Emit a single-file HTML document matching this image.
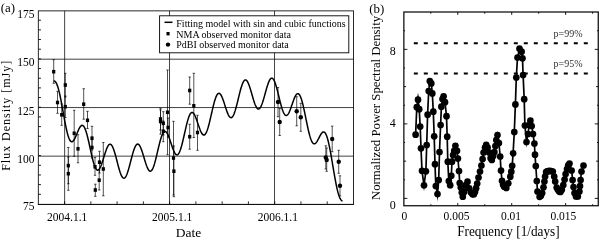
<!DOCTYPE html>
<html><head><meta charset="utf-8"><title>fig</title>
<style>
html,body{margin:0;padding:0;background:#fff;}
body{width:600px;height:240px;position:relative;overflow:hidden;font-family:"Liberation Serif",serif;}
svg{display:block;will-change:transform}
</style></head><body>
<svg width="600" height="240" viewBox="0 0 600 240" style="position:absolute;left:0;top:0">
<rect x="0" y="0" width="600" height="240" fill="#fff"/>
<line x1="64.65" y1="10.87" x2="64.65" y2="204.33" stroke="#111" stroke-width="0.8"/>
<line x1="169.53" y1="10.87" x2="169.53" y2="204.33" stroke="#111" stroke-width="0.8"/>
<line x1="274.53" y1="10.87" x2="274.53" y2="204.33" stroke="#111" stroke-width="0.8"/>
<line x1="38.33" y1="59.20" x2="353.47" y2="59.20" stroke="#111" stroke-width="0.8"/>
<line x1="38.33" y1="107.55" x2="353.47" y2="107.55" stroke="#111" stroke-width="0.8"/>
<line x1="38.33" y1="156.15" x2="353.47" y2="156.15" stroke="#111" stroke-width="0.8"/>
<line x1="64.59" y1="204.33" x2="64.59" y2="201.33" stroke="#000" stroke-width="0.8"/>
<line x1="90.85" y1="204.33" x2="90.85" y2="201.33" stroke="#000" stroke-width="0.8"/>
<line x1="117.12" y1="204.33" x2="117.12" y2="201.33" stroke="#000" stroke-width="0.8"/>
<line x1="143.38" y1="204.33" x2="143.38" y2="201.33" stroke="#000" stroke-width="0.8"/>
<line x1="169.64" y1="204.33" x2="169.64" y2="201.33" stroke="#000" stroke-width="0.8"/>
<line x1="195.90" y1="204.33" x2="195.90" y2="201.33" stroke="#000" stroke-width="0.8"/>
<line x1="222.16" y1="204.33" x2="222.16" y2="201.33" stroke="#000" stroke-width="0.8"/>
<line x1="248.42" y1="204.33" x2="248.42" y2="201.33" stroke="#000" stroke-width="0.8"/>
<line x1="274.69" y1="204.33" x2="274.69" y2="201.33" stroke="#000" stroke-width="0.8"/>
<line x1="300.95" y1="204.33" x2="300.95" y2="201.33" stroke="#000" stroke-width="0.8"/>
<line x1="327.21" y1="204.33" x2="327.21" y2="201.33" stroke="#000" stroke-width="0.8"/>
<line x1="38.33" y1="20.19" x2="40.93" y2="20.19" stroke="#000" stroke-width="0.9"/>
<line x1="38.33" y1="29.87" x2="40.93" y2="29.87" stroke="#000" stroke-width="0.9"/>
<line x1="38.33" y1="39.54" x2="40.93" y2="39.54" stroke="#000" stroke-width="0.9"/>
<line x1="38.33" y1="49.21" x2="40.93" y2="49.21" stroke="#000" stroke-width="0.9"/>
<line x1="38.33" y1="58.88" x2="40.93" y2="58.88" stroke="#000" stroke-width="0.9"/>
<line x1="38.33" y1="68.56" x2="40.93" y2="68.56" stroke="#000" stroke-width="0.9"/>
<line x1="38.33" y1="78.23" x2="40.93" y2="78.23" stroke="#000" stroke-width="0.9"/>
<line x1="38.33" y1="87.90" x2="40.93" y2="87.90" stroke="#000" stroke-width="0.9"/>
<line x1="38.33" y1="97.58" x2="40.93" y2="97.58" stroke="#000" stroke-width="0.9"/>
<line x1="38.33" y1="107.25" x2="40.93" y2="107.25" stroke="#000" stroke-width="0.9"/>
<line x1="38.33" y1="116.92" x2="40.93" y2="116.92" stroke="#000" stroke-width="0.9"/>
<line x1="38.33" y1="126.60" x2="40.93" y2="126.60" stroke="#000" stroke-width="0.9"/>
<line x1="38.33" y1="136.27" x2="40.93" y2="136.27" stroke="#000" stroke-width="0.9"/>
<line x1="38.33" y1="145.94" x2="40.93" y2="145.94" stroke="#000" stroke-width="0.9"/>
<line x1="38.33" y1="155.62" x2="40.93" y2="155.62" stroke="#000" stroke-width="0.9"/>
<line x1="38.33" y1="165.29" x2="40.93" y2="165.29" stroke="#000" stroke-width="0.9"/>
<line x1="38.33" y1="174.96" x2="40.93" y2="174.96" stroke="#000" stroke-width="0.9"/>
<line x1="38.33" y1="184.63" x2="40.93" y2="184.63" stroke="#000" stroke-width="0.9"/>
<line x1="38.33" y1="194.31" x2="40.93" y2="194.31" stroke="#000" stroke-width="0.9"/>
<path d="M53.7 59.7V83.3M52.5 59.7h2.4M52.5 83.3h2.4" stroke="#000" stroke-width="0.68" fill="none"/>
<path d="M65.3 73.3V97.0M64.1 73.3h2.4M64.1 97.0h2.4" stroke="#000" stroke-width="0.68" fill="none"/>
<path d="M57.5 91.3V113.3M56.3 91.3h2.4M56.3 113.3h2.4" stroke="#000" stroke-width="0.68" fill="none"/>
<path d="M65.3 96.0V117.5M64.1 96.0h2.4M64.1 117.5h2.4" stroke="#000" stroke-width="0.68" fill="none"/>
<path d="M61.7 104.0V125.3M60.5 104.0h2.4M60.5 125.3h2.4" stroke="#000" stroke-width="0.68" fill="none"/>
<path d="M83.7 88.7V119.2M82.5 88.7h2.4M82.5 119.2h2.4" stroke="#000" stroke-width="0.68" fill="none"/>
<path d="M74.2 110.3V156.3M73.0 110.3h2.4M73.0 156.3h2.4" stroke="#000" stroke-width="0.68" fill="none"/>
<path d="M87.5 111.3V128.5M86.3 111.3h2.4M86.3 128.5h2.4" stroke="#000" stroke-width="0.68" fill="none"/>
<path d="M92.0 126.3V150.0M90.8 126.3h2.4M90.8 150.0h2.4" stroke="#000" stroke-width="0.68" fill="none"/>
<path d="M92.0 137.0V158.0M90.8 137.0h2.4M90.8 158.0h2.4" stroke="#000" stroke-width="0.68" fill="none"/>
<path d="M78.0 134.7V162.8M76.8 134.7h2.4M76.8 162.8h2.4" stroke="#000" stroke-width="0.68" fill="none"/>
<path d="M68.3 147.5V183.7M67.1 147.5h2.4M67.1 183.7h2.4" stroke="#000" stroke-width="0.68" fill="none"/>
<path d="M68.3 157.0V190.3M67.1 157.0h2.4M67.1 190.3h2.4" stroke="#000" stroke-width="0.68" fill="none"/>
<path d="M95.0 157.5V175.3M93.8 157.5h2.4M93.8 175.3h2.4" stroke="#000" stroke-width="0.68" fill="none"/>
<path d="M99.5 151.3V173.0M98.3 151.3h2.4M98.3 173.0h2.4" stroke="#000" stroke-width="0.68" fill="none"/>
<path d="M103.3 142.5V195.8M102.1 142.5h2.4M102.1 195.8h2.4" stroke="#000" stroke-width="0.68" fill="none"/>
<path d="M99.2 170.0V190.0M98.0 170.0h2.4M98.0 190.0h2.4" stroke="#000" stroke-width="0.68" fill="none"/>
<path d="M95.3 184.2V196.3M94.1 184.2h2.4M94.1 196.3h2.4" stroke="#000" stroke-width="0.68" fill="none"/>
<path d="M167.5 70.0V154.7M166.3 70.0h2.4M166.3 154.7h2.4" stroke="#000" stroke-width="0.68" fill="none"/>
<path d="M160.5 108.3V130.0M159.3 108.3h2.4M159.3 130.0h2.4" stroke="#000" stroke-width="0.68" fill="none"/>
<path d="M160.5 110.0V134.2M159.3 110.0h2.4M159.3 134.2h2.4" stroke="#000" stroke-width="0.68" fill="none"/>
<path d="M163.3 111.7V135.0M162.10000000000002 111.7h2.4M162.10000000000002 135.0h2.4" stroke="#000" stroke-width="0.68" fill="none"/>
<path d="M168.0 118.0V137.0M166.8 118.0h2.4M166.8 137.0h2.4" stroke="#000" stroke-width="0.68" fill="none"/>
<path d="M163.3 121.0V141.7M162.10000000000002 121.0h2.4M162.10000000000002 141.7h2.4" stroke="#000" stroke-width="0.68" fill="none"/>
<path d="M189.7 77.0V104.2M188.5 77.0h2.4M188.5 104.2h2.4" stroke="#000" stroke-width="0.68" fill="none"/>
<path d="M193.8 73.3V137.5M192.60000000000002 73.3h2.4M192.60000000000002 137.5h2.4" stroke="#000" stroke-width="0.68" fill="none"/>
<path d="M189.7 124.2V149.2M188.5 124.2h2.4M188.5 149.2h2.4" stroke="#000" stroke-width="0.68" fill="none"/>
<path d="M197.5 115.3V150.3M196.3 115.3h2.4M196.3 150.3h2.4" stroke="#000" stroke-width="0.68" fill="none"/>
<path d="M173.5 121.3V195.0M172.3 121.3h2.4M172.3 195.0h2.4" stroke="#000" stroke-width="0.68" fill="none"/>
<path d="M173.9 146.0V196.7M172.70000000000002 146.0h2.4M172.70000000000002 196.7h2.4" stroke="#000" stroke-width="0.68" fill="none"/>
<path d="M278.0 87.5V116.7M276.8 87.5h2.4M276.8 116.7h2.4" stroke="#000" stroke-width="0.68" fill="none"/>
<path d="M279.7 108.5V135.5M278.5 108.5h2.4M278.5 135.5h2.4" stroke="#000" stroke-width="0.68" fill="none"/>
<path d="M296.7 96.7V125.8M295.5 96.7h2.4M295.5 125.8h2.4" stroke="#000" stroke-width="0.68" fill="none"/>
<path d="M300.8 103.3V131.3M299.6 103.3h2.4M299.6 131.3h2.4" stroke="#000" stroke-width="0.68" fill="none"/>
<path d="M332.2 126.2V151.7M331.0 126.2h2.4M331.0 151.7h2.4" stroke="#000" stroke-width="0.68" fill="none"/>
<path d="M325.8 145.8V169.0M324.6 145.8h2.4M324.6 169.0h2.4" stroke="#000" stroke-width="0.68" fill="none"/>
<path d="M326.7 148.0V171.3M325.5 148.0h2.4M325.5 171.3h2.4" stroke="#000" stroke-width="0.68" fill="none"/>
<path d="M338.7 150.3V173.3M337.5 150.3h2.4M337.5 173.3h2.4" stroke="#000" stroke-width="0.68" fill="none"/>
<path d="M340.0 175.8V195.8M338.8 175.8h2.4M338.8 195.8h2.4" stroke="#000" stroke-width="0.68" fill="none"/>
<path d="M53.6 80.95 L54.1 80.94 L54.6 81.11 L55.1 81.46 L55.6 82.01 L56.1 82.76 L56.6 83.72 L57.1 84.89 L57.6 86.27 L58.1 87.84 L58.6 89.62 L59.1 91.57 L59.6 93.70 L60.1 95.99 L60.6 98.41 L61.1 100.95 L61.6 103.59 L62.1 106.30 L62.6 109.07 L63.1 111.86 L63.6 114.65 L64.1 117.41 L64.6 120.12 L65.1 122.76 L65.6 125.30 L66.1 127.71 L66.6 129.99 L67.1 132.10 L67.6 134.03 L68.1 135.77 L68.6 137.30 L69.1 138.61 L69.6 139.70 L70.1 140.57 L70.6 141.20 L71.1 141.61 L71.6 141.80 L72.1 141.77 L72.6 141.54 L73.1 141.12 L73.6 140.53 L74.1 139.78 L74.6 138.90 L75.1 137.90 L75.6 136.80 L76.1 135.64 L76.6 134.44 L77.1 133.22 L77.6 132.01 L78.1 130.84 L78.6 129.72 L79.1 128.68 L79.6 127.75 L80.1 126.95 L80.6 126.29 L81.1 125.79 L81.6 125.47 L82.1 125.34 L82.6 125.41 L83.1 125.68 L83.6 126.16 L84.1 126.85 L84.6 127.76 L85.1 128.86 L85.6 130.16 L86.1 131.64 L86.6 133.30 L87.1 135.11 L87.6 137.06 L88.1 139.13 L88.6 141.29 L89.1 143.52 L89.6 145.81 L90.1 148.12 L90.6 150.43 L91.1 152.71 L91.6 154.93 L92.1 157.09 L92.6 159.14 L93.1 161.07 L93.6 162.85 L94.1 164.48 L94.6 165.92 L95.1 167.17 L95.6 168.22 L96.1 169.05 L96.6 169.65 L97.1 170.04 L97.6 170.19 L98.1 170.13 L98.6 169.84 L99.1 169.35 L99.6 168.65 L100.1 167.78 L100.6 166.73 L101.1 165.53 L101.6 164.20 L102.1 162.76 L102.6 161.23 L103.1 159.64 L103.6 158.01 L104.1 156.38 L104.6 154.75 L105.1 153.17 L105.6 151.65 L106.1 150.21 L106.6 148.89 L107.1 147.70 L107.6 146.65 L108.1 145.77 L108.6 145.08 L109.1 144.57 L109.6 144.27 L110.1 144.17 L110.6 144.29 L111.1 144.61 L111.6 145.15 L112.1 145.89 L112.6 146.83 L113.1 147.95 L113.6 149.24 L114.1 150.69 L114.6 152.27 L115.1 153.98 L115.6 155.77 L116.1 157.64 L116.6 159.55 L117.1 161.49 L117.6 163.43 L118.1 165.34 L118.6 167.19 L119.1 168.97 L119.6 170.64 L120.1 172.19 L120.6 173.60 L121.1 174.85 L121.6 175.91 L122.1 176.79 L122.6 177.46 L123.1 177.91 L123.6 178.15 L124.1 178.16 L124.6 177.95 L125.1 177.52 L125.6 176.87 L126.1 176.02 L126.6 174.97 L127.1 173.75 L127.6 172.35 L128.1 170.81 L128.6 169.15 L129.1 167.38 L129.6 165.53 L130.1 163.62 L130.6 161.68 L131.1 159.73 L131.6 157.81 L132.1 155.93 L132.6 154.11 L133.1 152.39 L133.6 150.79 L134.1 149.32 L134.6 148.00 L135.1 146.85 L135.6 145.89 L136.1 145.12 L136.6 144.55 L137.1 144.20 L137.6 144.06 L138.1 144.13 L138.6 144.41 L139.1 144.90 L139.6 145.59 L140.1 146.45 L140.6 147.49 L141.1 148.69 L141.6 150.02 L142.1 151.46 L142.6 153.00 L143.1 154.61 L143.6 156.27 L144.1 157.95 L144.6 159.62 L145.1 161.27 L145.6 162.86 L146.1 164.37 L146.6 165.78 L147.1 167.06 L147.6 168.21 L148.1 169.18 L148.6 169.99 L149.1 170.59 L149.6 171.00 L150.1 171.19 L150.6 171.16 L151.1 170.92 L151.6 170.45 L152.1 169.77 L152.6 168.87 L153.1 167.77 L153.6 166.48 L154.1 165.02 L154.6 163.39 L155.1 161.62 L155.6 159.73 L156.1 157.74 L156.6 155.68 L157.1 153.57 L157.6 151.43 L158.1 149.28 L158.6 147.17 L159.1 145.10 L159.6 143.11 L160.1 141.21 L160.6 139.43 L161.1 137.80 L161.6 136.32 L162.1 135.01 L162.6 133.89 L163.1 132.97 L163.6 132.26 L164.1 131.75 L164.6 131.47 L165.1 131.40 L165.6 131.54 L166.1 131.88 L166.6 132.43 L167.1 133.15 L167.6 134.05 L168.1 135.10 L168.6 136.29 L169.1 137.59 L169.6 138.98 L170.1 140.45 L170.6 141.96 L171.1 143.49 L171.6 145.01 L172.1 146.50 L172.6 147.94 L173.1 149.30 L173.6 150.55 L174.1 151.68 L174.6 152.67 L175.1 153.49 L175.6 154.14 L176.1 154.59 L176.6 154.84 L177.1 154.88 L177.6 154.70 L178.1 154.31 L178.6 153.70 L179.1 152.87 L179.6 151.84 L180.1 150.61 L180.6 149.19 L181.1 147.59 L181.6 145.85 L182.1 143.96 L182.6 141.96 L183.1 139.87 L183.6 137.70 L184.1 135.49 L184.6 133.26 L185.1 131.04 L185.6 128.84 L186.1 126.70 L186.6 124.64 L187.1 122.68 L187.6 120.85 L188.1 119.15 L188.6 117.62 L189.1 116.27 L189.6 115.11 L190.1 114.15 L190.6 113.40 L191.1 112.86 L191.6 112.54 L192.1 112.44 L192.6 112.54 L193.1 112.86 L193.6 113.37 L194.1 114.07 L194.6 114.94 L195.1 115.96 L195.6 117.11 L196.1 118.38 L196.6 119.74 L197.1 121.17 L197.6 122.64 L198.1 124.13 L198.6 125.62 L199.1 127.07 L199.6 128.46 L200.1 129.78 L200.6 130.99 L201.1 132.08 L201.6 133.02 L202.1 133.80 L202.6 134.40 L203.1 134.81 L203.6 135.02 L204.1 135.02 L204.6 134.81 L205.1 134.38 L205.6 133.74 L206.1 132.88 L206.6 131.82 L207.1 130.57 L207.6 129.13 L208.1 127.52 L208.6 125.77 L209.1 123.88 L209.6 121.88 L210.1 119.79 L210.6 117.64 L211.1 115.45 L211.6 113.24 L212.1 111.05 L212.6 108.88 L213.1 106.78 L213.6 104.77 L214.1 102.86 L214.6 101.07 L215.1 99.44 L215.6 97.97 L216.1 96.68 L216.6 95.59 L217.1 94.70 L217.6 94.03 L218.1 93.57 L218.6 93.33 L219.1 93.30 L219.6 93.49 L220.1 93.89 L220.6 94.48 L221.1 95.26 L221.6 96.21 L222.1 97.31 L222.6 98.55 L223.1 99.90 L223.6 101.34 L224.1 102.84 L224.6 104.39 L225.1 105.95 L225.6 107.51 L226.1 109.03 L226.6 110.50 L227.1 111.89 L227.6 113.17 L228.1 114.32 L228.6 115.33 L229.1 116.18 L229.6 116.85 L230.1 117.33 L230.6 117.62 L231.1 117.69 L231.6 117.55 L232.1 117.20 L232.6 116.64 L233.1 115.86 L233.6 114.89 L234.1 113.73 L234.6 112.38 L235.1 110.88 L235.6 109.23 L236.1 107.45 L236.6 105.56 L237.1 103.60 L237.6 101.57 L238.1 99.51 L238.6 97.44 L239.1 95.39 L239.6 93.37 L240.1 91.42 L240.6 89.56 L241.1 87.81 L241.6 86.20 L242.1 84.74 L242.6 83.44 L243.1 82.34 L243.6 81.43 L244.1 80.72 L244.6 80.23 L245.1 79.96 L245.6 79.91 L246.1 80.08 L246.6 80.47 L247.1 81.06 L247.6 81.85 L248.1 82.82 L248.6 83.96 L249.1 85.26 L249.6 86.69 L250.1 88.23 L250.6 89.86 L251.1 91.55 L251.6 93.29 L252.1 95.04 L252.6 96.78 L253.1 98.49 L253.6 100.14 L254.1 101.71 L254.6 103.17 L255.1 104.51 L255.6 105.70 L256.1 106.73 L256.6 107.59 L257.1 108.25 L257.6 108.72 L258.1 108.98 L258.6 109.03 L259.1 108.87 L259.6 108.50 L260.1 107.92 L260.6 107.15 L261.1 106.19 L261.6 105.06 L262.1 103.76 L262.6 102.33 L263.1 100.78 L263.6 99.12 L264.1 97.39 L264.6 95.60 L265.1 93.78 L265.6 91.96 L266.1 90.17 L266.6 88.41 L267.1 86.73 L267.6 85.14 L268.1 83.67 L268.6 82.34 L269.1 81.16 L269.6 80.15 L270.1 79.34 L270.6 78.72 L271.1 78.32 L271.6 78.13 L272.1 78.16 L272.6 78.42 L273.1 78.90 L273.6 79.59 L274.1 80.49 L274.6 81.58 L275.1 82.87 L275.6 84.32 L276.1 85.92 L276.6 87.65 L277.1 89.50 L277.6 91.43 L278.1 93.43 L278.6 95.47 L279.1 97.52 L279.6 99.56 L280.1 101.57 L280.6 103.51 L281.1 105.38 L281.6 107.14 L282.1 108.77 L282.6 110.26 L283.1 111.58 L283.6 112.73 L284.1 113.69 L284.6 114.46 L285.1 115.02 L285.6 115.37 L286.1 115.52 L286.6 115.45 L287.1 115.19 L287.6 114.73 L288.1 114.09 L288.6 113.28 L289.1 112.32 L289.6 111.22 L290.1 110.00 L290.6 108.69 L291.1 107.30 L291.6 105.87 L292.1 104.41 L292.6 102.96 L293.1 101.53 L293.6 100.15 L294.1 98.85 L294.6 97.65 L295.1 96.57 L295.6 95.63 L296.1 94.85 L296.6 94.25 L297.1 93.84 L297.6 93.63 L298.1 93.64 L298.6 93.87 L299.1 94.32 L299.6 95.00 L300.1 95.89 L300.6 97.00 L301.1 98.33 L301.6 99.84 L302.1 101.55 L302.6 103.42 L303.1 105.44 L303.6 107.60 L304.1 109.86 L304.6 112.21 L305.1 114.63 L305.6 117.08 L306.1 119.55 L306.6 122.00 L307.1 124.42 L307.6 126.78 L308.1 129.05 L308.6 131.22 L309.1 133.26 L309.6 135.16 L310.1 136.89 L310.6 138.45 L311.1 139.83 L311.6 141.00 L312.1 141.98 L312.6 142.75 L313.1 143.31 L313.6 143.67 L314.1 143.83 L314.6 143.80 L315.1 143.60 L315.6 143.23 L316.1 142.70 L316.6 142.05 L317.1 141.29 L317.6 140.43 L318.1 139.51 L318.6 138.55 L319.1 137.57 L319.6 136.59 L320.1 135.65 L320.6 134.76 L321.1 133.95 L321.6 133.25 L322.1 132.68 L322.6 132.25 L323.1 131.98 L323.6 131.90 L324.1 132.01 L324.6 132.33 L325.1 132.87 L325.6 133.63 L326.1 134.61 L326.6 135.82 L327.1 137.25 L327.6 138.90 L328.1 140.76 L328.6 142.81 L329.1 145.05 L329.6 147.46 L330.1 150.02 L330.6 152.71 L331.1 155.50 L331.6 158.39 L332.1 161.33 L332.6 164.31 L333.1 167.31 L333.6 170.29 L334.1 173.23 L334.6 176.12 L335.1 178.92 L335.6 181.61 L336.1 184.17 L336.6 186.59 L337.1 188.85 L337.6 190.94 L338.1 192.84 L338.6 194.54 L339.1 196.05 L339.6 197.35 L340.1 198.45 L340.6 199.35 L341.1 200.05 L341.6 200.57 L342.1 200.91 L342.6 201.09" stroke="#000" stroke-width="1.5" fill="none" stroke-linejoin="round"/>
<rect x="52.10" y="69.90" width="3.2" height="3.6" fill="#000"/>
<rect x="63.70" y="83.20" width="3.2" height="3.6" fill="#000"/>
<rect x="55.90" y="100.70" width="3.2" height="3.6" fill="#000"/>
<rect x="63.70" y="104.90" width="3.2" height="3.6" fill="#000"/>
<rect x="60.10" y="113.00" width="3.2" height="3.6" fill="#000"/>
<rect x="82.10" y="102.40" width="3.2" height="3.6" fill="#000"/>
<rect x="72.60" y="131.50" width="3.2" height="3.6" fill="#000"/>
<rect x="85.90" y="118.50" width="3.2" height="3.6" fill="#000"/>
<rect x="90.40" y="136.50" width="3.2" height="3.6" fill="#000"/>
<rect x="90.40" y="145.70" width="3.2" height="3.6" fill="#000"/>
<rect x="76.40" y="147.00" width="3.2" height="3.6" fill="#000"/>
<rect x="66.70" y="163.80" width="3.2" height="3.6" fill="#000"/>
<rect x="66.70" y="171.90" width="3.2" height="3.6" fill="#000"/>
<rect x="93.40" y="165.00" width="3.2" height="3.6" fill="#000"/>
<rect x="97.90" y="160.40" width="3.2" height="3.6" fill="#000"/>
<rect x="101.70" y="167.20" width="3.2" height="3.6" fill="#000"/>
<rect x="97.60" y="178.40" width="3.2" height="3.6" fill="#000"/>
<rect x="93.70" y="188.20" width="3.2" height="3.6" fill="#000"/>
<rect x="165.90" y="110.50" width="3.2" height="3.6" fill="#000"/>
<rect x="158.90" y="117.20" width="3.2" height="3.6" fill="#000"/>
<rect x="158.90" y="119.70" width="3.2" height="3.6" fill="#000"/>
<rect x="161.70" y="121.50" width="3.2" height="3.6" fill="#000"/>
<rect x="166.40" y="125.70" width="3.2" height="3.6" fill="#000"/>
<rect x="161.70" y="129.50" width="3.2" height="3.6" fill="#000"/>
<rect x="188.10" y="88.70" width="3.2" height="3.6" fill="#000"/>
<rect x="192.20" y="104.00" width="3.2" height="3.6" fill="#000"/>
<rect x="188.10" y="134.90" width="3.2" height="3.6" fill="#000"/>
<rect x="195.90" y="130.70" width="3.2" height="3.6" fill="#000"/>
<rect x="171.90" y="156.20" width="3.2" height="3.6" fill="#000"/>
<rect x="172.30" y="169.40" width="3.2" height="3.6" fill="#000"/>
<circle cx="278.0" cy="102.0" r="2.2" fill="#000"/>
<circle cx="279.7" cy="122.0" r="2.2" fill="#000"/>
<circle cx="296.7" cy="111.3" r="2.2" fill="#000"/>
<circle cx="300.8" cy="117.2" r="2.2" fill="#000"/>
<circle cx="332.2" cy="139.0" r="2.2" fill="#000"/>
<circle cx="325.8" cy="157.5" r="2.2" fill="#000"/>
<circle cx="326.7" cy="160.0" r="2.2" fill="#000"/>
<circle cx="338.7" cy="161.7" r="2.2" fill="#000"/>
<circle cx="340.0" cy="185.8" r="2.2" fill="#000"/>
<rect x="38.33" y="10.87" width="315.14" height="193.46" fill="none" stroke="#111" stroke-width="0.9"/>
<line x1="37.879999999999995" y1="204.43" x2="353.92" y2="204.43" stroke="#111" stroke-width="1.1"/>
<rect x="159.6" y="15.8" width="189.2" height="37" fill="#fff" stroke="#000" stroke-width="0.9"/>
<line x1="164.5" y1="22.3" x2="172.5" y2="22.3" stroke="#000" stroke-width="1.5"/>
<rect x="166.5" y="32" width="3.1" height="3.4" fill="#000"/>
<circle cx="168" cy="44.6" r="2.2" fill="#000"/>
<line x1="430.83" y1="205.75" x2="430.83" y2="204.25" stroke="#000" stroke-width="0.9"/>
<line x1="430.83" y1="12.0" x2="430.83" y2="13.7" stroke="#000" stroke-width="0.9"/>
<line x1="457.79" y1="205.75" x2="457.79" y2="203.05" stroke="#000" stroke-width="0.9"/>
<line x1="457.79" y1="12.0" x2="457.79" y2="14.899999999999999" stroke="#000" stroke-width="0.9"/>
<line x1="484.75" y1="205.75" x2="484.75" y2="204.25" stroke="#000" stroke-width="0.9"/>
<line x1="484.75" y1="12.0" x2="484.75" y2="13.7" stroke="#000" stroke-width="0.9"/>
<line x1="511.71" y1="205.75" x2="511.71" y2="203.05" stroke="#000" stroke-width="0.9"/>
<line x1="511.71" y1="12.0" x2="511.71" y2="14.899999999999999" stroke="#000" stroke-width="0.9"/>
<line x1="538.67" y1="205.75" x2="538.67" y2="204.25" stroke="#000" stroke-width="0.9"/>
<line x1="538.67" y1="12.0" x2="538.67" y2="13.7" stroke="#000" stroke-width="0.9"/>
<line x1="565.63" y1="205.75" x2="565.63" y2="203.05" stroke="#000" stroke-width="0.9"/>
<line x1="565.63" y1="12.0" x2="565.63" y2="14.899999999999999" stroke="#000" stroke-width="0.9"/>
<line x1="592.59" y1="205.75" x2="592.59" y2="204.25" stroke="#000" stroke-width="0.9"/>
<line x1="592.59" y1="12.0" x2="592.59" y2="13.7" stroke="#000" stroke-width="0.9"/>
<line x1="403.87" y1="198.40" x2="407.37" y2="198.40" stroke="#000" stroke-width="0.9"/>
<line x1="598.25" y1="198.40" x2="594.75" y2="198.40" stroke="#000" stroke-width="0.9"/>
<line x1="403.87" y1="179.77" x2="405.07" y2="179.77" stroke="#000" stroke-width="0.9"/>
<line x1="598.25" y1="179.77" x2="597.05" y2="179.77" stroke="#000" stroke-width="0.9"/>
<line x1="403.87" y1="161.14" x2="406.07" y2="161.14" stroke="#000" stroke-width="0.9"/>
<line x1="598.25" y1="161.14" x2="596.05" y2="161.14" stroke="#000" stroke-width="0.9"/>
<line x1="403.87" y1="142.51" x2="405.07" y2="142.51" stroke="#000" stroke-width="0.9"/>
<line x1="598.25" y1="142.51" x2="597.05" y2="142.51" stroke="#000" stroke-width="0.9"/>
<line x1="403.87" y1="123.88" x2="407.37" y2="123.88" stroke="#000" stroke-width="0.9"/>
<line x1="598.25" y1="123.88" x2="594.75" y2="123.88" stroke="#000" stroke-width="0.9"/>
<line x1="403.87" y1="105.25" x2="405.07" y2="105.25" stroke="#000" stroke-width="0.9"/>
<line x1="598.25" y1="105.25" x2="597.05" y2="105.25" stroke="#000" stroke-width="0.9"/>
<line x1="403.87" y1="86.62" x2="406.07" y2="86.62" stroke="#000" stroke-width="0.9"/>
<line x1="598.25" y1="86.62" x2="596.05" y2="86.62" stroke="#000" stroke-width="0.9"/>
<line x1="403.87" y1="67.99" x2="405.07" y2="67.99" stroke="#000" stroke-width="0.9"/>
<line x1="598.25" y1="67.99" x2="597.05" y2="67.99" stroke="#000" stroke-width="0.9"/>
<line x1="403.87" y1="49.36" x2="407.37" y2="49.36" stroke="#000" stroke-width="0.9"/>
<line x1="598.25" y1="49.36" x2="594.75" y2="49.36" stroke="#000" stroke-width="0.9"/>
<line x1="403.87" y1="30.73" x2="405.07" y2="30.73" stroke="#000" stroke-width="0.9"/>
<line x1="598.25" y1="30.73" x2="597.05" y2="30.73" stroke="#000" stroke-width="0.9"/>
<line x1="413.8" y1="43.2" x2="588" y2="43.2" stroke="#000" stroke-width="2" stroke-dasharray="4 6"/>
<line x1="413.8" y1="73.4" x2="588" y2="73.4" stroke="#000" stroke-width="2" stroke-dasharray="4 6"/>
<path d="M415.6 134.7 L416.8 107.2 L418.0 99.7 L419.2 109.2 L420.2 126.5 L421.0 148.3 L422.0 170.8 L424.0 185.3 L425.9 171.3 L426.7 145.0 L427.6 114.7 L428.7 91.0 L429.8 81.0 L431.3 83.4 L432.3 93.4 L433.3 111.7 L434.2 136.3 L435.0 164.2 L435.8 186.0 L437.5 194.0 L438.7 180.0 L439.5 152.0 L440.6 125.0 L441.4 106.7 L442.5 99.1 L443.6 96.3 L445.0 102.2 L446.5 116.2 L447.2 136.7 L447.8 161.7 L448.8 181.0 L450.2 185.2 L451.3 175.8 L452.0 161.7 L453.1 155.0 L454.2 150.8 L455.4 145.8 L457.0 150.8 L457.9 158.5 L459.0 171.0 L459.7 183.0 L460.8 187.5 L461.8 192.5 L462.8 196.7 L464.2 192.0 L465.8 185.0 L467.5 181.7 L469.2 188.3 L471.0 192.5 L472.6 194.3 L473.9 194.2 L475.0 191.8 L476.1 188.2 L477.2 183.5 L478.5 177.5 L480.0 171.5 L481.4 165.5 L482.6 159.0 L483.6 152.5 L485.0 147.5 L486.2 144.8 L487.6 147.5 L489.2 152.5 L490.6 158.0 L491.8 160.0 L493.2 156.0 L494.4 152.0 L495.4 146.0 L496.3 140.0 L497.5 135.0 L498.9 143.0 L500.2 156.5 L501.0 170.6 L502.0 180.8 L503.1 184.7 L504.2 186.7 L506.3 188.0 L508.3 183.3 L510.3 176.7 L511.3 171.7 L512.2 165.8 L513.1 153.3 L514.3 132.0 L515.4 104.4 L516.3 77.5 L517.5 57.5 L519.5 48.7 L521.6 51.7 L522.5 58.3 L523.1 75.0 L524.2 99.2 L524.9 125.5 L526.5 142.0 L528.0 134.0 L529.2 125.0 L530.4 120.7 L531.7 126.0 L533.0 134.0 L534.4 143.5 L535.0 154.7 L535.8 166.0 L536.8 181.0 L537.5 191.5 L539.6 196.8 L540.9 195.7 L542.2 193.0 L543.5 187.3 L544.4 181.5 L545.1 176.5 L546.1 172.0 L547.2 171.4 L548.4 171.0 L549.5 170.9 L551.1 171.0 L552.8 171.5 L554.2 176.5 L555.2 181.5 L556.7 187.5 L557.9 189.8 L559.2 191.4 L560.4 192.0 L561.8 189.7 L563.3 185.0 L564.6 179.5 L565.6 174.0 L567.0 169.0 L568.2 165.4 L569.5 163.5 L571.6 170.5 L572.6 180.0 L573.5 187.0 L574.5 193.0 L576.0 196.5 L577.8 196.5 L579.4 191.5 L580.0 186.0 L580.6 180.0 L581.5 171.5 L583.5 165.5" stroke="#000" stroke-width="1.7" fill="none" stroke-linejoin="miter" stroke-miterlimit="10"/>
<circle cx="415.6" cy="134.7" r="3.35" fill="#000"/>
<circle cx="416.8" cy="107.2" r="3.35" fill="#000"/>
<circle cx="418.0" cy="99.7" r="3.35" fill="#000"/>
<circle cx="419.2" cy="109.2" r="3.35" fill="#000"/>
<circle cx="420.2" cy="126.5" r="3.35" fill="#000"/>
<circle cx="421.0" cy="148.3" r="3.35" fill="#000"/>
<circle cx="422.0" cy="170.8" r="3.35" fill="#000"/>
<circle cx="424.0" cy="185.3" r="3.35" fill="#000"/>
<circle cx="425.9" cy="171.3" r="3.35" fill="#000"/>
<circle cx="426.7" cy="145.0" r="3.35" fill="#000"/>
<circle cx="427.6" cy="114.7" r="3.35" fill="#000"/>
<circle cx="428.7" cy="91.0" r="3.35" fill="#000"/>
<circle cx="429.8" cy="81.0" r="3.35" fill="#000"/>
<circle cx="431.3" cy="83.4" r="3.35" fill="#000"/>
<circle cx="432.3" cy="93.4" r="3.35" fill="#000"/>
<circle cx="433.3" cy="111.7" r="3.35" fill="#000"/>
<circle cx="434.2" cy="136.3" r="3.35" fill="#000"/>
<circle cx="435.0" cy="164.2" r="3.35" fill="#000"/>
<circle cx="435.8" cy="186.0" r="3.35" fill="#000"/>
<circle cx="437.5" cy="194.0" r="3.35" fill="#000"/>
<circle cx="438.7" cy="180.0" r="3.35" fill="#000"/>
<circle cx="439.5" cy="152.0" r="3.35" fill="#000"/>
<circle cx="440.6" cy="125.0" r="3.35" fill="#000"/>
<circle cx="441.4" cy="106.7" r="3.35" fill="#000"/>
<circle cx="442.5" cy="99.1" r="3.35" fill="#000"/>
<circle cx="443.6" cy="96.3" r="3.35" fill="#000"/>
<circle cx="445.0" cy="102.2" r="3.35" fill="#000"/>
<circle cx="446.5" cy="116.2" r="3.35" fill="#000"/>
<circle cx="447.2" cy="136.7" r="3.35" fill="#000"/>
<circle cx="447.8" cy="161.7" r="3.35" fill="#000"/>
<circle cx="448.8" cy="181.0" r="3.35" fill="#000"/>
<circle cx="450.2" cy="185.2" r="3.35" fill="#000"/>
<circle cx="451.3" cy="175.8" r="3.35" fill="#000"/>
<circle cx="452.0" cy="161.7" r="3.35" fill="#000"/>
<circle cx="453.1" cy="155.0" r="3.35" fill="#000"/>
<circle cx="454.2" cy="150.8" r="3.35" fill="#000"/>
<circle cx="455.4" cy="145.8" r="3.35" fill="#000"/>
<circle cx="457.0" cy="150.8" r="3.35" fill="#000"/>
<circle cx="457.9" cy="158.5" r="3.35" fill="#000"/>
<circle cx="459.0" cy="171.0" r="3.35" fill="#000"/>
<circle cx="459.7" cy="183.0" r="3.35" fill="#000"/>
<circle cx="460.8" cy="187.5" r="3.35" fill="#000"/>
<circle cx="461.8" cy="192.5" r="3.35" fill="#000"/>
<circle cx="462.8" cy="196.7" r="3.35" fill="#000"/>
<circle cx="464.2" cy="192.0" r="3.35" fill="#000"/>
<circle cx="465.8" cy="185.0" r="3.35" fill="#000"/>
<circle cx="467.5" cy="181.7" r="3.35" fill="#000"/>
<circle cx="469.2" cy="188.3" r="3.35" fill="#000"/>
<circle cx="471.0" cy="192.5" r="3.35" fill="#000"/>
<circle cx="472.6" cy="194.3" r="3.35" fill="#000"/>
<circle cx="473.9" cy="194.2" r="3.35" fill="#000"/>
<circle cx="475.0" cy="191.8" r="3.35" fill="#000"/>
<circle cx="476.1" cy="188.2" r="3.35" fill="#000"/>
<circle cx="477.2" cy="183.5" r="3.35" fill="#000"/>
<circle cx="478.5" cy="177.5" r="3.35" fill="#000"/>
<circle cx="480.0" cy="171.5" r="3.35" fill="#000"/>
<circle cx="481.4" cy="165.5" r="3.35" fill="#000"/>
<circle cx="482.6" cy="159.0" r="3.35" fill="#000"/>
<circle cx="483.6" cy="152.5" r="3.35" fill="#000"/>
<circle cx="485.0" cy="147.5" r="3.35" fill="#000"/>
<circle cx="486.2" cy="144.8" r="3.35" fill="#000"/>
<circle cx="487.6" cy="147.5" r="3.35" fill="#000"/>
<circle cx="489.2" cy="152.5" r="3.35" fill="#000"/>
<circle cx="490.6" cy="158.0" r="3.35" fill="#000"/>
<circle cx="491.8" cy="160.0" r="3.35" fill="#000"/>
<circle cx="493.2" cy="156.0" r="3.35" fill="#000"/>
<circle cx="494.4" cy="152.0" r="3.35" fill="#000"/>
<circle cx="495.4" cy="146.0" r="3.35" fill="#000"/>
<circle cx="496.3" cy="140.0" r="3.35" fill="#000"/>
<circle cx="497.5" cy="135.0" r="3.35" fill="#000"/>
<circle cx="498.9" cy="143.0" r="3.35" fill="#000"/>
<circle cx="500.2" cy="156.5" r="3.35" fill="#000"/>
<circle cx="501.0" cy="170.6" r="3.35" fill="#000"/>
<circle cx="502.0" cy="180.8" r="3.35" fill="#000"/>
<circle cx="503.1" cy="184.7" r="3.35" fill="#000"/>
<circle cx="504.2" cy="186.7" r="3.35" fill="#000"/>
<circle cx="506.3" cy="188.0" r="3.35" fill="#000"/>
<circle cx="508.3" cy="183.3" r="3.35" fill="#000"/>
<circle cx="510.3" cy="176.7" r="3.35" fill="#000"/>
<circle cx="511.3" cy="171.7" r="3.35" fill="#000"/>
<circle cx="512.2" cy="165.8" r="3.35" fill="#000"/>
<circle cx="513.1" cy="153.3" r="3.35" fill="#000"/>
<circle cx="514.3" cy="132.0" r="3.35" fill="#000"/>
<circle cx="515.4" cy="104.4" r="3.35" fill="#000"/>
<circle cx="516.3" cy="77.5" r="3.35" fill="#000"/>
<circle cx="517.5" cy="57.5" r="3.35" fill="#000"/>
<circle cx="519.5" cy="48.7" r="3.35" fill="#000"/>
<circle cx="521.6" cy="51.7" r="3.35" fill="#000"/>
<circle cx="522.5" cy="58.3" r="3.35" fill="#000"/>
<circle cx="523.1" cy="75.0" r="3.35" fill="#000"/>
<circle cx="524.2" cy="99.2" r="3.35" fill="#000"/>
<circle cx="524.9" cy="125.5" r="3.35" fill="#000"/>
<circle cx="526.5" cy="142.0" r="3.35" fill="#000"/>
<circle cx="528.0" cy="134.0" r="3.35" fill="#000"/>
<circle cx="529.2" cy="125.0" r="3.35" fill="#000"/>
<circle cx="530.4" cy="120.7" r="3.35" fill="#000"/>
<circle cx="531.7" cy="126.0" r="3.35" fill="#000"/>
<circle cx="533.0" cy="134.0" r="3.35" fill="#000"/>
<circle cx="534.4" cy="143.5" r="3.35" fill="#000"/>
<circle cx="535.0" cy="154.7" r="3.35" fill="#000"/>
<circle cx="535.8" cy="166.0" r="3.35" fill="#000"/>
<circle cx="536.8" cy="181.0" r="3.35" fill="#000"/>
<circle cx="537.5" cy="191.5" r="3.35" fill="#000"/>
<circle cx="539.6" cy="196.8" r="3.35" fill="#000"/>
<circle cx="540.9" cy="195.7" r="3.35" fill="#000"/>
<circle cx="542.2" cy="193.0" r="3.35" fill="#000"/>
<circle cx="543.5" cy="187.3" r="3.35" fill="#000"/>
<circle cx="544.4" cy="181.5" r="3.35" fill="#000"/>
<circle cx="545.1" cy="176.5" r="3.35" fill="#000"/>
<circle cx="546.1" cy="172.0" r="3.35" fill="#000"/>
<circle cx="547.2" cy="171.4" r="3.35" fill="#000"/>
<circle cx="548.4" cy="171.0" r="3.35" fill="#000"/>
<circle cx="549.5" cy="170.9" r="3.35" fill="#000"/>
<circle cx="551.1" cy="171.0" r="3.35" fill="#000"/>
<circle cx="552.8" cy="171.5" r="3.35" fill="#000"/>
<circle cx="554.2" cy="176.5" r="3.35" fill="#000"/>
<circle cx="555.2" cy="181.5" r="3.35" fill="#000"/>
<circle cx="556.7" cy="187.5" r="3.35" fill="#000"/>
<circle cx="557.9" cy="189.8" r="3.35" fill="#000"/>
<circle cx="559.2" cy="191.4" r="3.35" fill="#000"/>
<circle cx="560.4" cy="192.0" r="3.35" fill="#000"/>
<circle cx="561.8" cy="189.7" r="3.35" fill="#000"/>
<circle cx="563.3" cy="185.0" r="3.35" fill="#000"/>
<circle cx="564.6" cy="179.5" r="3.35" fill="#000"/>
<circle cx="565.6" cy="174.0" r="3.35" fill="#000"/>
<circle cx="567.0" cy="169.0" r="3.35" fill="#000"/>
<circle cx="568.2" cy="165.4" r="3.35" fill="#000"/>
<circle cx="569.5" cy="163.5" r="3.35" fill="#000"/>
<circle cx="571.6" cy="170.5" r="3.35" fill="#000"/>
<circle cx="572.6" cy="180.0" r="3.35" fill="#000"/>
<circle cx="573.5" cy="187.0" r="3.35" fill="#000"/>
<circle cx="574.5" cy="193.0" r="3.35" fill="#000"/>
<circle cx="576.0" cy="196.5" r="3.35" fill="#000"/>
<circle cx="577.8" cy="196.5" r="3.35" fill="#000"/>
<circle cx="579.4" cy="191.5" r="3.35" fill="#000"/>
<circle cx="580.0" cy="186.0" r="3.35" fill="#000"/>
<circle cx="580.6" cy="180.0" r="3.35" fill="#000"/>
<circle cx="581.5" cy="171.5" r="3.35" fill="#000"/>
<circle cx="583.5" cy="165.5" r="3.35" fill="#000"/>
<path d="M417.2 99.7L418 92.3L418.8 99.7Z" fill="#000"/>
<path d="M436.7 194L437.6 201.6L438.4 194Z" fill="#000"/>
<rect x="403.87" y="12.0" width="194.38" height="193.75" fill="none" stroke="#000" stroke-width="1.2"/>
<g font-family="Liberation Serif, serif"><text transform="translate(0.8 12.2) scale(1.0 1)" font-size="12.8" text-anchor="start" fill="#000" >(a)</text><text transform="translate(34.5 18.099999999999998) scale(0.94 1)" font-size="12.3" text-anchor="end" fill="#000" >175</text><text transform="translate(34.5 66.3) scale(0.94 1)" font-size="12.3" text-anchor="end" fill="#000" >150</text><text transform="translate(34.5 114.60000000000001) scale(0.94 1)" font-size="12.3" text-anchor="end" fill="#000" >125</text><text transform="translate(34.5 162.6) scale(0.94 1)" font-size="12.3" text-anchor="end" fill="#000" >100</text><text transform="translate(34.5 210.0) scale(0.94 1)" font-size="12.3" text-anchor="end" fill="#000" >75</text><text transform="translate(67.2 220.6) scale(0.935 1)" font-size="12.3" text-anchor="middle" fill="#000" >2004.1.1</text><text transform="translate(172.2 220.6) scale(0.935 1)" font-size="12.3" text-anchor="middle" fill="#000" >2005.1.1</text><text transform="translate(277.8 220.6) scale(0.935 1)" font-size="12.3" text-anchor="middle" fill="#000" >2006.1.1</text><text transform="translate(188.4 236.5) scale(1.0 1)" font-size="13.5" text-anchor="middle" fill="#000" >Date</text><text transform="translate(176.3 27.4) scale(1.0 1)" font-size="10" text-anchor="start" fill="#000" >Fitting model with sin and cubic functions</text><text transform="translate(176.3 37.7) scale(1.0 1)" font-size="10" text-anchor="start" fill="#000" >NMA observed monitor data</text><text transform="translate(176.3 48.2) scale(1.0 1)" font-size="10" text-anchor="start" fill="#000" >PdBI observed monitor data</text><text transform="translate(369.2 12.7) scale(1.0 1)" font-size="12.9" text-anchor="start" fill="#000" >(b)</text><text transform="translate(395.8 54.5) scale(1.0 1)" font-size="12" text-anchor="end" fill="#000" >8</text><text transform="translate(395.8 127.3) scale(1.0 1)" font-size="12" text-anchor="end" fill="#000" >4</text><text transform="translate(395.8 208.5) scale(1.0 1)" font-size="12" text-anchor="end" fill="#000" >0</text><text transform="translate(404.3 220) scale(1.0 1)" font-size="11.5" text-anchor="middle" fill="#000" >0</text><text transform="translate(456.5 220) scale(1.0 1)" font-size="11.5" text-anchor="middle" fill="#000" >0.005</text><text transform="translate(511.0 220) scale(1.0 1)" font-size="11.5" text-anchor="middle" fill="#000" >0.01</text><text transform="translate(563.4 220) scale(1.0 1)" font-size="11.5" text-anchor="middle" fill="#000" >0.015</text><text transform="translate(508.4 235.7) scale(0.974 1)" font-size="13.6" text-anchor="middle" fill="#000" >Frequency [1/days]</text><text transform="translate(553.5 37.0) scale(1.0 1)" font-size="10" text-anchor="start" fill="#333" >p=99%</text><text transform="translate(553.5 67.4) scale(1.0 1)" font-size="10" text-anchor="start" fill="#333" >p=95%</text><text transform="translate(10.0 170.8) rotate(-90)" font-size="12" letter-spacing="0.98" text-anchor="start">Flux Density [mJy]</text><text transform="translate(380.0 108.0) rotate(-90) scale(0.962 1)" font-size="13.3" text-anchor="middle">Normalized Power Spectral Density</text></g></svg>
</body></html>
